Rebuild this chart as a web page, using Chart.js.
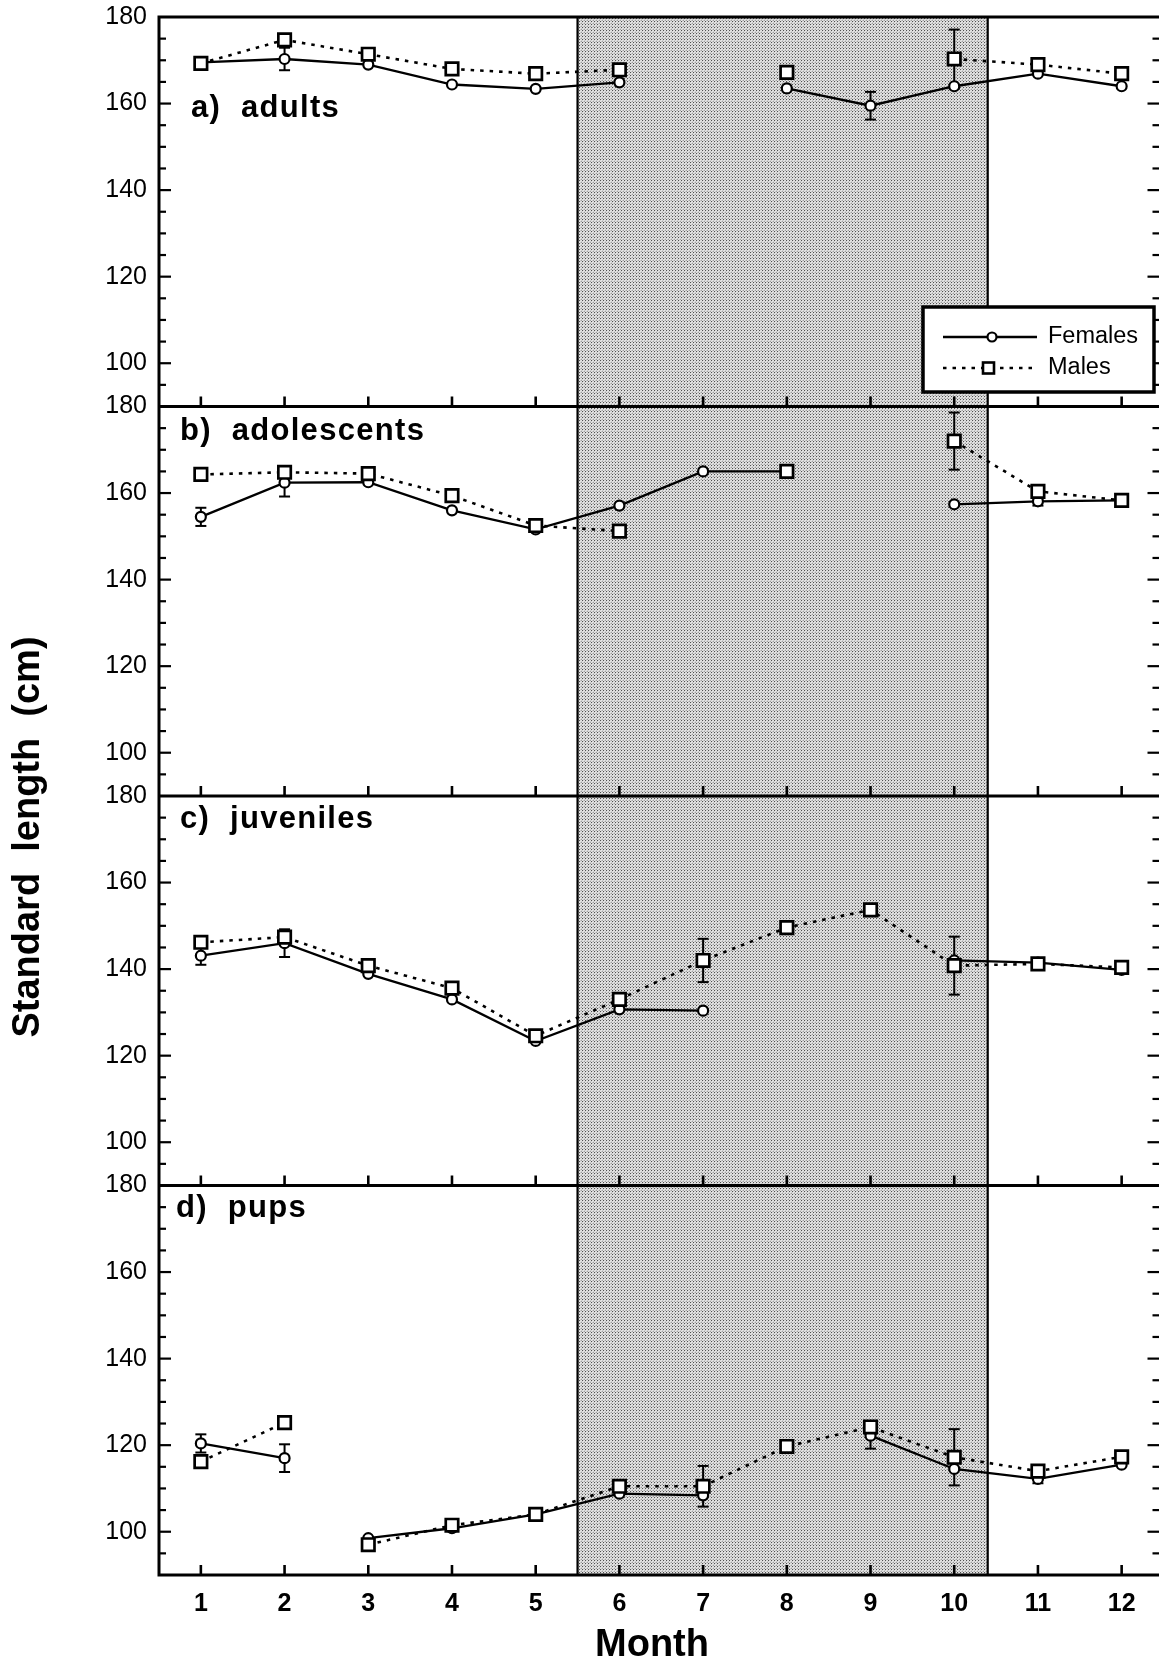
<!DOCTYPE html>
<html>
<head>
<meta charset="utf-8">
<title>Standard length by month</title>
<script src="https://cdn.jsdelivr.net/npm/chart.js@4/dist/chart.umd.min.js"></script>
<style>
  html, body { margin: 0; padding: 0; background: #fff; overflow: hidden; }
  #wrap { position: relative; width: 1159px; height: 1663px; overflow: hidden; }
  canvas { display: block; }
</style>
</head>
<body>
<div id="wrap"><canvas id="chart" width="1175" height="1663"></canvas></div>
<script>
// ---- data ----------------------------------------------------------------
const months = [1, 2, 3, 4, 5, 6, 7, 8, 9, 10, 11, 12];
const yTickLabels = [100, 120, 140, 160, 180];
const seasonBand = [5.5, 10.4];          // shaded months
const seriesNames = ['Females', 'Males'];

// a) adults
const adultsFemales   = [169.5, 170.3, 169.0, 164.4, 163.4, 164.9, null, 163.5, 159.5, 164.0, 166.9, 164.0];
const adultsFemalesSE = [0, 2.6, 0, 0, 0, 0, 0, 0, 3.2, 0, 0, 0];
const adultsMales     = [169.3, 174.7, 171.4, 168.0, 166.9, 167.8, null, 167.2, null, 170.3, 169.0, 166.9];
const adultsMalesSE   = [0, 0, 0, 0, 0, 0, 0, 0, 0, 6.8, 0, 0];

// b) adolescents
const adolescentsFemales   = [154.5, 162.4, 162.5, 156.0, 151.6, 157.1, 165.0, 165.0, null, 157.4, 158.1, 158.3];
const adolescentsFemalesSE = [2.1, 3.2, 0, 0, 0, 0, 0, 0, 0, 0, 1.0, 0];
const adolescentsMales     = [164.3, 164.8, 164.5, 159.4, 152.5, 151.2, null, 165.0, null, 172.0, 160.4, 158.3];
const adolescentsMalesSE   = [0, 1.0, 0, 0, 0, 0, 0, 0, 0, 6.6, 0, 0];

// c) juveniles
const juvenilesFemales   = [143.1, 146.0, 138.9, 133.0, 123.4, 130.7, 130.4, null, null, 142.0, 141.5, 139.8];
const juvenilesFemalesSE = [2.1, 3.2, 0, 0, 0, 0, 0, 0, 0, 0, 0, 0];
const juvenilesMales     = [146.2, 147.4, 140.8, 135.6, 124.6, 133.0, 142.0, 149.6, 153.7, 140.8, 141.2, 140.4];
const juvenilesMalesSE   = [0, 1.5, 1.0, 0, 0, 0, 5.0, 0, 0, 6.7, 0, 0];

// d) pups
const pupsFemales   = [120.4, 117.0, 98.5, 100.8, 104.0, 108.8, 108.4, null, 122.2, 114.5, 112.2, 115.5];
const pupsFemalesSE = [2.1, 3.2, 0, 0, 0, 0, 0, 0, 3.0, 0, 1.0, 0];
const pupsMales     = [116.2, 125.2, 97.0, 101.5, 104.0, 110.5, 110.5, 119.7, 124.2, 117.2, 114.0, 117.3];
const pupsMalesSE   = [1.0, 0, 0, 0, 0, 0, 4.7, 0, 0, 6.5, 0, 0];
const pupsLineBreaks = [2];               // no connecting line from month 2 to month 3

// ---- panels (top to bottom) ----------------------------------------------
const panels = [
  { id: 'ya', title: 'a)  adults',      f: adultsFemales,      fSE: adultsFemalesSE,      m: adultsMales,      mSE: adultsMalesSE,      breaks: [] },
  { id: 'yb', title: 'b)  adolescents', f: adolescentsFemales, fSE: adolescentsFemalesSE, m: adolescentsMales, mSE: adolescentsMalesSE, breaks: [] },
  { id: 'yc', title: 'c)  juveniles',   f: juvenilesFemales,   fSE: juvenilesFemalesSE,   m: juvenilesMales,   mSE: juvenilesMalesSE,   breaks: [] },
  { id: 'yd', title: 'd)  pups',        f: pupsFemales,        fSE: pupsFemalesSE,        m: pupsMales,        mSE: pupsMalesSE,        breaks: pupsLineBreaks }
];

// title placement inside each panel (x from plot left, baseline from panel top)
const titlePlacement = { ya: [32, 100], yb: [21, 33], yc: [21, 32], yd: [17, 31] };

const FONT = '"Liberation Sans", Arial, Helvetica, sans-serif';
const INK = '#000';

const toPoints = vals => months.map((mo, i) => ({ x: mo, y: vals[i] }));
const segColor = breaks => ctx => breaks.includes(months[ctx.p0DataIndex]) ? 'rgba(0,0,0,0)' : INK;

const datasets = [];
panels.forEach(p => {
  datasets.push({
    label: seriesNames[1], yAxisID: p.id, data: toPoints(p.m), order: 0,
    borderColor: INK, borderWidth: 2.6, borderDash: [3.5, 6],
    pointStyle: 'rect', pointRadius: 8.8, pointBorderWidth: 2.7,
    pointBackgroundColor: '#fff', pointBorderColor: INK,
    spanGaps: false, tension: 0,
    segment: { borderColor: segColor(p.breaks) }
  });
  datasets.push({
    label: seriesNames[0], yAxisID: p.id, data: toPoints(p.f), order: 1,
    borderColor: INK, borderWidth: 2.3,
    pointStyle: 'circle', pointRadius: 5, pointBorderWidth: 2.2,
    pointBackgroundColor: '#fff', pointBorderColor: INK,
    spanGaps: false, tension: 0,
    segment: { borderColor: segColor(p.breaks) }
  });
});

// halftone fill used for the shaded season
function halftone(ctx) {
  const t = document.createElement('canvas');
  t.width = 3; t.height = 3;
  const g = t.getContext('2d');
  const shades = [[80, 212, 230], [212, 230, 205], [230, 200, 160]];
  shades.forEach((row, j) => row.forEach((v, i) => {
    g.fillStyle = `rgb(${v},${v},${v})`;
    g.fillRect(i, j, 1, 1);
  }));
  return ctx.createPattern(t, 'repeat');
}

const line = (ctx, x0, y0, x1, y1) => { ctx.beginPath(); ctx.moveTo(x0, y0); ctx.lineTo(x1, y1); ctx.stroke(); };

const panelFrame = {
  id: 'panelFrame',
  beforeDatasetsDraw(chart) {
    const { ctx, chartArea: a, scales: { x } } = chart;
    ctx.save();
    // shaded season band
    const b0 = x.getPixelForValue(seasonBand[0]);
    const b1 = x.getPixelForValue(seasonBand[1]);
    ctx.fillStyle = halftone(ctx);
    ctx.fillRect(b0, a.top, b1 - b0, a.bottom - a.top);
    ctx.strokeStyle = INK;
    ctx.lineWidth = 2.2;
    line(ctx, b0, a.top, b0, a.bottom);
    line(ctx, b1, a.top, b1, a.bottom);

    // standard-error bars (markers are drawn on top of them)
    ctx.lineWidth = 2;
    panels.forEach(p => {
      const y = chart.scales[p.id];
      [[p.f, p.fSE], [p.m, p.mSE]].forEach(([vals, se]) => {
        vals.forEach((v, i) => {
          if (v == null || !se[i]) return;
          const px = x.getPixelForValue(months[i]);
          const t = y.getPixelForValue(v + se[i]);
          const bt = y.getPixelForValue(v - se[i]);
          line(ctx, px, t, px, bt);
          line(ctx, px - 5.5, t, px + 5.5, t);
          line(ctx, px - 5.5, bt, px + 5.5, bt);
        });
      });
    });
    ctx.restore();
  },
  afterDatasetsDraw(chart) {
    const { ctx, chartArea: a, scales: { x } } = chart;
    ctx.save();
    ctx.strokeStyle = INK;
    ctx.fillStyle = INK;

    // outer frame and panel dividers
    ctx.lineWidth = 3;
    ctx.strokeRect(a.left, a.top, a.right - a.left, a.bottom - a.top);
    panels.forEach((p, k) => {
      const s = chart.scales[p.id];
      ctx.lineWidth = 3;
      if (k > 0) line(ctx, a.left, s.top, a.right, s.top);

      // y ticks every 5 units, longer at the labelled values
      ctx.lineWidth = 2.2;
      for (let v = s.min + 5; v < s.max; v += 5) {
        const py = s.getPixelForValue(v);
        const len = yTickLabels.includes(v) ? 12 : 7;
        line(ctx, a.left, py, a.left + len, py);
        line(ctx, a.right, py, a.right - len - 4, py);
      }
      // month ticks on each panel's bottom edge
      ctx.lineWidth = 2.6;
      months.forEach(mo => {
        const px = x.getPixelForValue(mo);
        line(ctx, px, s.bottom, px, s.bottom - 10);
      });

      // panel title
      const [dx, dy] = titlePlacement[p.id];
      ctx.font = `bold 31px ${FONT}`;
      ctx.letterSpacing = '1.3px';
      ctx.textAlign = 'left';
      ctx.textBaseline = 'alphabetic';
      ctx.fillText(p.title, a.left + dx, s.top + dy);
      ctx.letterSpacing = '0px';
    });

    // legend (inside panel a)
    const lg = { x: 923, y: 307, w: 231, h: 85 };
    ctx.fillStyle = '#fff';
    ctx.fillRect(lg.x, lg.y, lg.w, lg.h);
    ctx.lineWidth = 3.5;
    ctx.strokeRect(lg.x, lg.y, lg.w, lg.h);
    ctx.fillStyle = INK;
    const rows = [{ y: 337, name: seriesNames[0] }, { y: 368, name: seriesNames[1] }];
    // Females row
    ctx.lineWidth = 2.3;
    line(ctx, 943, rows[0].y, 1037, rows[0].y);
    ctx.beginPath();
    ctx.arc(992, rows[0].y, 4.5, 0, Math.PI * 2);
    ctx.fillStyle = '#fff'; ctx.fill();
    ctx.lineWidth = 2.2; ctx.stroke();
    // Males row
    ctx.lineWidth = 2.6;
    ctx.setLineDash([3.5, 6]);
    line(ctx, 943, rows[1].y, 1037, rows[1].y);
    ctx.setLineDash([]);
    ctx.fillStyle = '#fff';
    ctx.fillRect(983, rows[1].y - 5.5, 11, 11);
    ctx.strokeRect(983, rows[1].y - 5.5, 11, 11);
    ctx.fillStyle = INK;
    ctx.font = `23.5px ${FONT}`;
    ctx.textBaseline = 'middle';
    rows.forEach(r => ctx.fillText(r.name, 1048, r.y));

    // axis titles
    ctx.font = `bold 38px ${FONT}`;
    ctx.textAlign = 'center';
    ctx.textBaseline = 'alphabetic';
    ctx.fillText('Month', 652, 1656);

    ctx.save();
    ctx.translate(39, (a.top + a.bottom) / 2 + 41);
    ctx.rotate(-Math.PI / 2);
    ctx.font = `bold 38px ${FONT}`;
    ctx.fillText('Standard  length  (cm)', 0, 0);
    ctx.restore();

    ctx.restore();
  }
};

// no extra edge padding from the scales: the plot frame is placed by layout.padding
const noEdgePadding = s => { s.paddingTop = 0; s.paddingBottom = 0; s.paddingLeft = 0; s.paddingRight = 0; };

// y scales, listed bottom panel first so the stack builds top-down a, b, c, d
const scales = {
  x: {
    type: 'linear', position: 'bottom', min: 0.5, max: 12.5,
    afterBuildTicks: s => { s.ticks = months.map(v => ({ value: v })); },
    afterFit: s => { s.height = 88; noEdgePadding(s); },
    grid: { display: false, drawTicks: false },
    border: { display: false },
    ticks: { color: INK, padding: 14, font: { family: FONT, size: 25, weight: 'bold' }, autoSkip: false, maxRotation: 0 }
  }
};
[...panels].reverse().forEach(p => {
  scales[p.id] = {
    type: 'linear', position: 'left', stack: 'panels', stackWeight: 1,
    min: 90, max: 180,
    afterBuildTicks: s => { s.ticks = yTickLabels.map(v => ({ value: v })); },
    afterFit: s => { s.width = 100; noEdgePadding(s); },
    grid: { display: false, drawTicks: false },
    border: { display: false },
    ticks: { color: INK, padding: 12, font: { family: FONT, size: 25 }, autoSkip: false }
  };
});

new Chart(document.getElementById('chart'), {
  type: 'line',
  data: { datasets },
  options: {
    responsive: false,
    devicePixelRatio: 1,
    animation: false,
    layout: { padding: { left: 59, right: 8.5, top: 17, bottom: 0 } },
    plugins: { legend: { display: false }, tooltip: { enabled: false } },
    scales
  },
  plugins: [panelFrame]
});
</script>
</body>
</html>
